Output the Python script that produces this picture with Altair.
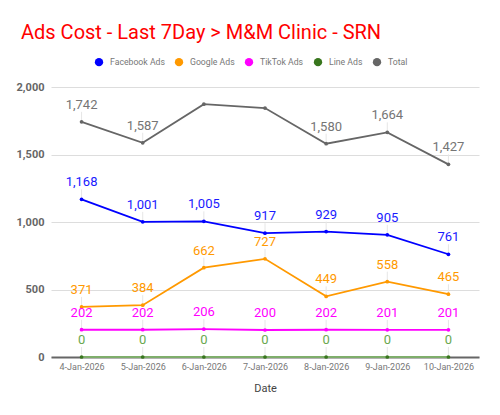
import altair as alt
import pandas as pd

dates = ["4-Jan-2026", "5-Jan-2026", "6-Jan-2026", "7-Jan-2026",
         "8-Jan-2026", "9-Jan-2026", "10-Jan-2026"]
series_names = ["Facebook Ads", "Google Ads", "TikTok Ads", "Line Ads", "Total"]
facebook = [1168, 1001, 1005, 917, 929, 905, 761]
google = [371, 384, 662, 727, 449, 558, 465]
tiktok = [202, 202, 206, 200, 202, 201, 201]
line_ads = [0, 0, 0, 0, 0, 0, 0]
total = [1742, 1587, 1873, 1844, 1580, 1664, 1427]
# which points carry a data label in the reference
facebook_lab = [True] * 7
google_lab = [True] * 7
tiktok_lab = [True] * 7
line_lab = [True] * 7
total_lab = [True, True, False, False, True, True, True]

series_colors = ["#0000ff", "#ff9900", "#ff00ff", "#38761d", "#666666"]
line_colors = ["#0000ff", "#ff9900", "#ff00ff", "#7fae6b", "#666666"]
label_colors = ["#1a1aff", "#ff9900", "#ff00ff", "#6aa84f", "#757575"]

values = [facebook, google, tiktok, line_ads, total]
labflags = [facebook_lab, google_lab, tiktok_lab, line_lab, total_lab]

rows = []
for s, vals, flags, lc in zip(series_names, values, labflags, label_colors):
    for d, v, f in zip(dates, vals, flags):
        rows.append({"series": s, "date": d, "value": v,
                     "label": f"{v:,}" if f else "", "lcolor": lc})
df = pd.DataFrame(rows)

x_enc = alt.X("date:N", sort=dates,
              scale=alt.Scale(type="point", padding=0.5),
              axis=alt.Axis(title="Date", labelAngle=0, labelFontSize=9,
                            labelColor="#777777", domainColor="#666666",
                            domainWidth=2, ticks=False, grid=False,
                            labelPadding=5, titleFontSize=11,
                            titleColor="#444444", titleFontWeight="normal",
                            titlePadding=11))
y_enc = alt.Y("value:Q", scale=alt.Scale(domain=[0, 2000], nice=False),
              axis=alt.Axis(title=None, values=[0, 500, 1000, 1500, 2000],
                            format=",.0f", domain=False, ticks=False,
                            gridColor="#dddddd", labelColor="#666666",
                            labelFontWeight="bold", labelFontSize=11,
                            labelPadding=7))

base = alt.Chart(df)

leaders = base.mark_rule(color="#e6e6e6", strokeWidth=1, y2Offset=-10).encode(
    x=x_enc, y=y_enc, y2="value:Q",
    detail="series:N",
).transform_filter(alt.datum.label != "")

lines = base.mark_line(strokeWidth=1.8).encode(
    x=x_enc, y=y_enc,
    color=alt.Color("series:N",
                    scale=alt.Scale(domain=series_names, range=line_colors),
                    legend=None),
    detail="series:N",
)

points = base.mark_point(filled=True, size=14, opacity=1).encode(
    x=x_enc, y=y_enc,
    color=alt.Color("series:N",
                    scale=alt.Scale(domain=series_names, range=series_colors),
                    sort=series_names,
                    legend=alt.Legend(title=None, orient="none",
                                      legendX=43, legendY=-30,
                                      direction="horizontal",
                                      symbolType="circle", symbolSize=70,
                                      labelFontSize=8.7, labelColor="#777777",
                                      labelOffset=6,
                                      columnPadding=9, symbolOpacity=1)),
)

texts = base.mark_text(dy=-17, fontSize=13, font="Roboto").encode(
    x=x_enc, y=y_enc,
    text="label:N",
    color=alt.Color("lcolor:N", scale=None),
)

chart = alt.layer(leaders, lines, points, texts).resolve_scale(
    color="independent"
).properties(
    width=428, height=270,
    title=alt.TitleParams("Ads Cost - Last 7Day > M&M Clinic - SRN",
                          color="#ff0000", fontSize=20, fontWeight="normal",
                          anchor="start", frame="group", dx=-30, offset=14,
                          font="Roboto"),
    autosize=alt.AutoSizeParams(type="none"),
    padding={"left": 51, "right": 21, "top": 87, "bottom": 58},
).configure(font="Roboto").configure_view(stroke=None)

chart.save("out.html", embed_options={"renderer": "svg", "actions": False})
